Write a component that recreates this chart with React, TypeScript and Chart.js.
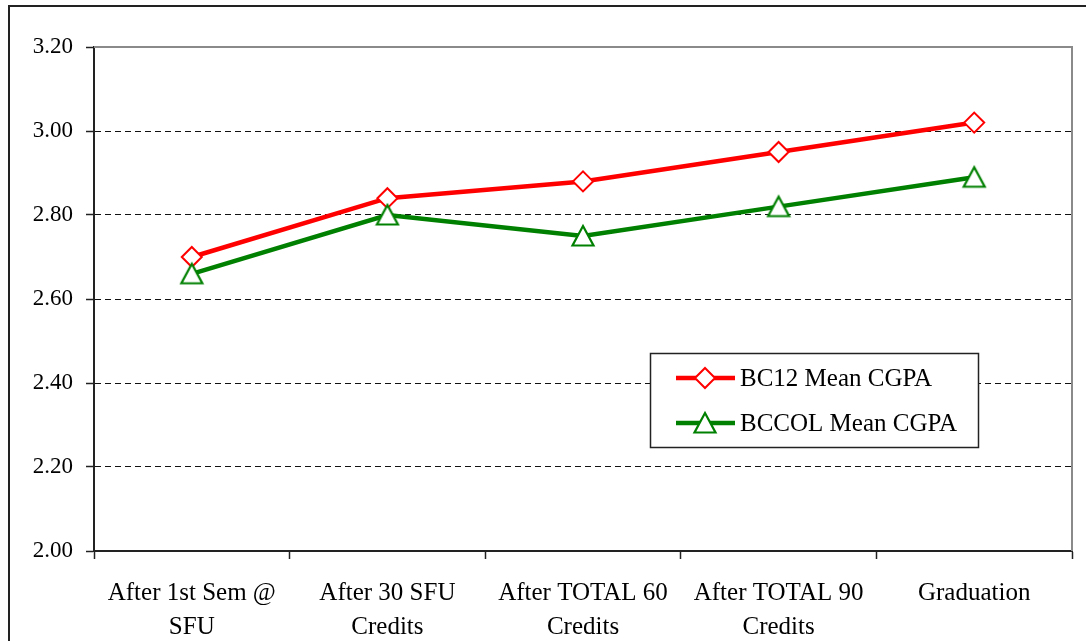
import React, { useEffect, useRef } from 'react';
import { Chart, registerables } from 'chart.js';
import { drawPoint } from 'chart.js/helpers';

Chart.register(...registerables);

const categories: string[][] = [
  ['After 1st Sem @', 'SFU'],
  ['After 30 SFU', 'Credits'],
  ['After TOTAL 60', 'Credits'],
  ['After TOTAL 90', 'Credits'],
  ['Graduation'],
];
const seriesNames = ['BC12 Mean CGPA', 'BCCOL Mean CGPA'];
const bc12Values = [2.70, 2.84, 2.88, 2.95, 3.02];
const bccolValues = [2.66, 2.80, 2.75, 2.82, 2.89];
const yMin = 2.0;
const yMax = 3.2;
const yStep = 0.2;

const FONT = '"Liberation Serif", "Times New Roman", serif';

function makeTriangle(color: string): HTMLCanvasElement {
  const c = document.createElement('canvas');
  c.width = 26;
  c.height = 26;
  const g = c.getContext('2d')!;
  g.fillStyle = '#ffffff';
  g.strokeStyle = color;
  g.lineWidth = 2.2;
  g.lineJoin = 'miter';
  g.beginPath();
  g.moveTo(13, 3);
  g.lineTo(23.5, 22.5);
  g.lineTo(2.5, 22.5);
  g.closePath();
  g.fill();
  g.stroke();
  return c;
}

const framePlugin = {
  id: 'frame',
  beforeDraw(chart: any) {
    const ctx = chart.ctx;
    ctx.save();
    ctx.fillStyle = '#ffffff';
    ctx.fillRect(0, 0, chart.width, chart.height);
    ctx.strokeStyle = '#222222';
    ctx.lineWidth = 2;
    ctx.beginPath();
    ctx.moveTo(9, chart.height);
    ctx.lineTo(9, 6);
    ctx.lineTo(chart.width, 6);
    ctx.stroke();
    ctx.restore();
  },
  beforeDatasetsDraw(chart: any) {
    const { ctx, chartArea } = chart;
    ctx.save();
    ctx.strokeStyle = '#8a8a8a';
    ctx.lineWidth = 2;
    ctx.beginPath();
    ctx.moveTo(chartArea.left, chartArea.top);
    ctx.lineTo(chartArea.right, chartArea.top);
    ctx.lineTo(chartArea.right, chartArea.bottom);
    ctx.stroke();
    ctx.restore();
  },
};

const boxLegendPlugin = {
  id: 'boxLegend',
  afterDraw(chart: any) {
    const ctx = chart.ctx;
    const x0 = 650, y0 = 353, w = 328, h = 94;
    ctx.save();
    ctx.fillStyle = '#ffffff';
    ctx.fillRect(x0, y0, w, h);
    ctx.strokeStyle = '#222222';
    ctx.lineWidth = 1.5;
    ctx.strokeRect(x0 + 0.5, y0 + 0.5, w, h);
    const rows = [378, 423];
    chart.data.datasets.forEach((ds: any, i: number) => {
      const y = rows[i];
      ctx.strokeStyle = ds.borderColor;
      ctx.lineWidth = ds.borderWidth;
      ctx.beginPath();
      ctx.moveTo(676, y);
      ctx.lineTo(735, y);
      ctx.stroke();
      ctx.fillStyle = ds.pointBackgroundColor;
      ctx.strokeStyle = ds.pointBorderColor;
      ctx.lineWidth = ds.pointBorderWidth;
      drawPoint(ctx, { pointStyle: ds.pointStyle, radius: ds.pointRadius, borderWidth: ds.pointBorderWidth, rotation: 0 }, 705, y);
      ctx.fillStyle = '#000000';
      ctx.font = `25px ${FONT}`;
      ctx.textBaseline = 'middle';
      ctx.textAlign = 'left';
      ctx.fillText(ds.label, 740, y + 1);
    });
    ctx.restore();
  },
};

export default function App() {
  const ref = useRef<HTMLCanvasElement | null>(null);
  useEffect(() => {
    if (!ref.current) return;
    const tri = makeTriangle('#008000');
    const chart = new Chart(ref.current, {
      type: 'line',
      data: {
        labels: categories,
        datasets: [
          {
            label: seriesNames[0],
            data: bc12Values,
            borderColor: '#ff0000',
            borderWidth: 4.5,
            pointStyle: 'rectRot',
            pointRadius: 10,
            pointBorderWidth: 2,
            pointBackgroundColor: '#ffffff',
            pointBorderColor: '#ff0000',
            order: 1,
            tension: 0,
          },
          {
            label: seriesNames[1],
            data: bccolValues,
            borderColor: '#008000',
            borderWidth: 4.5,
            pointStyle: tri,
            pointRadius: 12,
            pointBorderWidth: 2,
            pointBackgroundColor: '#ffffff',
            pointBorderColor: '#008000',
            order: 0,
            tension: 0,
          },
        ],
      },
      options: {
        responsive: false,
        animation: false,
        layout: { padding: { left: 0, top: 47, right: 12, bottom: 0 } },
        plugins: { legend: { display: false }, tooltip: { enabled: false } },
        scales: {
          x: {
            offset: true,
            grid: {
              offset: true,
              drawOnChartArea: false,
              tickLength: 8,
              tickColor: '#222222',
              tickWidth: 1.5,
            },
            border: { color: '#222222', width: 2 },
            ticks: {
              color: '#000000',
              font: { family: FONT, size: 25, lineHeight: 34 / 25 },
              padding: 17,
              maxRotation: 0,
              autoSkip: false,
            },
            afterFit(scale: any) {
              scale.height = 90;
            },
          },
          y: {
            min: yMin,
            max: yMax,
            grid: {
              color: (c: any) => {
                const v = c.tick ? c.tick.value : 0;
                if (Math.abs(v - yMax) < 1e-6 || Math.abs(v - yMin) < 1e-6) return 'rgba(0,0,0,0)';
                return '#111111';
              },
              lineWidth: 1,
              tickLength: 8,
              tickColor: '#222222',
              tickWidth: 1.5,
              tickBorderDash: [],
            },
            border: { color: '#222222', width: 2, dash: [6, 4] },
            ticks: {
              stepSize: yStep,
              color: '#000000',
              font: { family: FONT, size: 23 },
              padding: 13,
              callback: (v: any) => Number(v).toFixed(2),
            },
            afterFit(scale: any) {
              scale.width = 94;
            },
          },
        },
      },
      plugins: [framePlugin, boxLegendPlugin],
    });
    return () => chart.destroy();
  }, []);
  return (
    <canvas
      ref={ref}
      width={1086}
      height={641}
      style={{ position: 'fixed', left: 0, top: 0, width: 1086, height: 641 }}
    />
  );
}
